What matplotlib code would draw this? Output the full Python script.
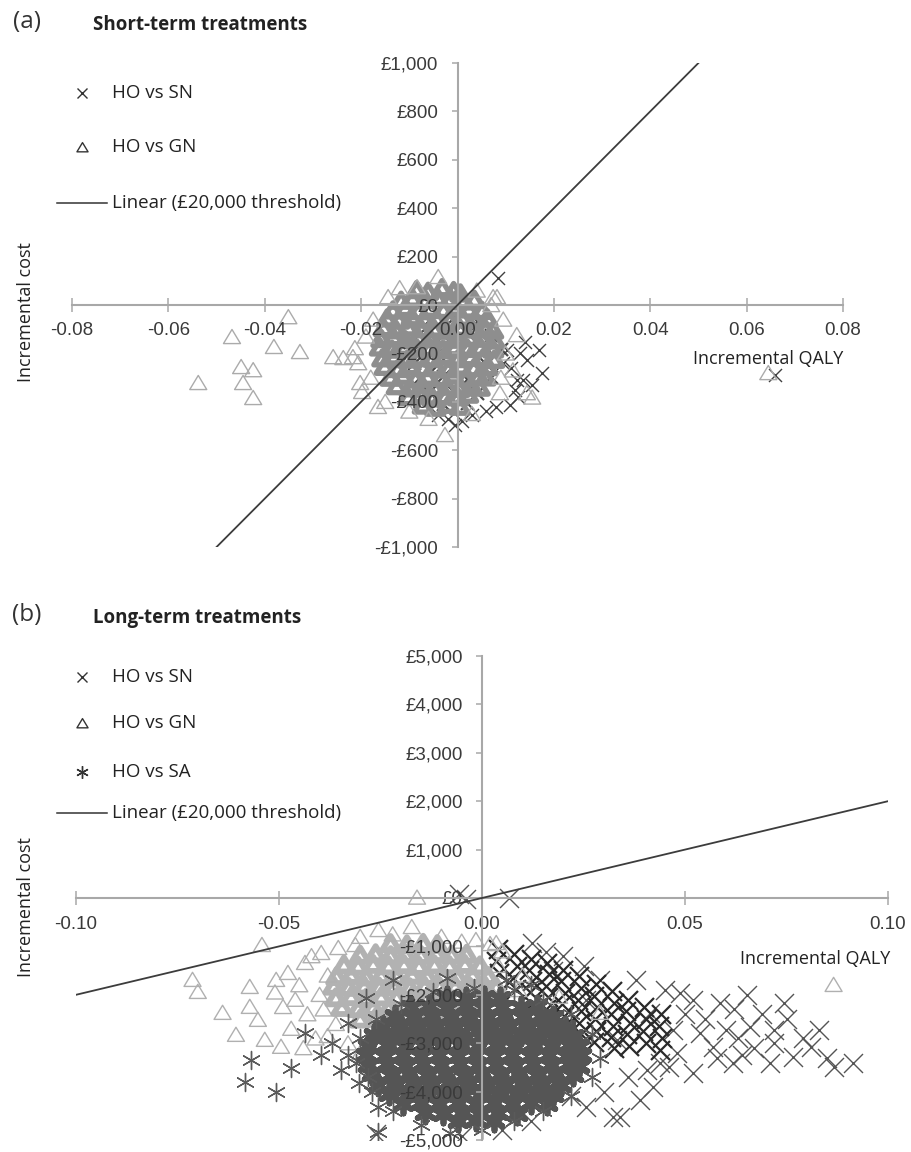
import numpy as np
import matplotlib
matplotlib.use('Agg')
import matplotlib.pyplot as plt
from matplotlib.lines import Line2D
from matplotlib.path import Path

# ======================= DATA =======================
# ---- panel (a): short-term treatments ----
a_xticks = [-0.08, -0.06, -0.04, -0.02, 0.0, 0.02, 0.04, 0.06, 0.08]
a_xticklabels = ['-0.08', '-0.06', '-0.04', '-0.02', '0.00', '0.02', '0.04', '0.06', '0.08']
a_yticks = [-1000, -800, -600, -400, -200, 0, 200, 400, 600, 800, 1000]
a_yticklabels = ['-£1,000', '-£800', '-£600', '-£400', '-£200', '£0', '£200', '£400', '£600', '£800', '£1,000']
a_threshold_x = [-0.05, 0.05]
a_threshold_y = [-1000, 1000]

# HO vs SN (x markers) - dense part and scattered part
a_sn_dense = [
    (-0.006, -60), (-0.001, -55), (0.004, -65),
    (-0.008, -120), (-0.003, -125), (0.002, -115), (0.007, -122),
    (-0.009, -180), (-0.004, -175), (0.001, -185), (0.006, -178), (0.009, -182),
    (-0.009, -240), (-0.004, -245), (0.001, -235), (0.006, -242),
    (-0.008, -300), (-0.003, -295), (0.002, -305), (0.007, -298),
    (-0.006, -360), (-0.001, -355), (0.004, -365),
    (-0.003, -410), (0.002, -405),
]
a_sn_sparse = [
    (0.0085, 112), (0.0659, -289), (0.0140, -153), (0.0169, -186), (0.0144, -227),
    (0.0175, -281), (0.0136, -310), (0.0123, -310), (0.0109, -413), (0.0095, -240),
    (0.0103, -186), (-0.0005, -496), (0.0010, -480), (-0.0020, -470), (0.0030, -455),
    (0.0060, -440), (0.0080, -420), (-0.0040, -455), (0.0120, -350), (0.0110, -260),
    (0.0130, -200), (0.0155, -330), (0.0125, -380),
]
# HO vs GN (triangles)
a_gn_dense = [
    (-0.0085, 62), (-0.0061, 55), (-0.0032, 70), (-0.0008, 58), (0.0006, 48),
    (-0.0117, 18), (-0.0093, 27), (-0.0066, 20), (-0.0041, 30), (-0.0014, 24), (0.0012, 15), (0.0035, 22),
    (-0.0134, -22), (-0.0108, -12), (-0.0081, -25), (-0.0057, -15), (-0.0029, -20), (-0.0003, -10),
    (0.0024, -18), (0.0051, -24),
    (-0.0146, -55), (-0.0121, -64), (-0.0095, -50), (-0.0068, -60), (-0.0043, -57), (-0.0016, -66),
    (0.0009, -52), (0.0036, -61), (0.0062, -55),
    (-0.0153, -95), (-0.0127, -104), (-0.0102, -92), (-0.0075, -100), (-0.0049, -97), (-0.0022, -106),
    (0.0004, -94), (0.0031, -101), (0.0057, -96), (0.0074, -105),
    (-0.0158, -140), (-0.0133, -132), (-0.0108, -145), (-0.0081, -136), (-0.0056, -141), (-0.0029, -130),
    (-0.0002, -143), (0.0025, -135), (0.0051, -139), (0.0077, -146),
    (-0.0161, -175), (-0.0136, -184), (-0.0109, -172), (-0.0084, -180), (-0.0057, -177), (-0.0031, -186),
    (-0.0005, -174), (0.0021, -181), (0.0048, -176), (0.0074, -183),
    (-0.0156, -220), (-0.0131, -212), (-0.0104, -225), (-0.0079, -216), (-0.0052, -221), (-0.0026, -210),
    (0.0001, -223), (0.0027, -215), (0.0053, -219), (0.0076, -226),
    (-0.0151, -255), (-0.0124, -264), (-0.0098, -252), (-0.0071, -260), (-0.0046, -257), (-0.0019, -266),
    (0.0007, -254), (0.0034, -261), (0.0062, -256),
    (-0.0139, -300), (-0.0113, -292), (-0.0087, -305), (-0.0062, -296), (-0.0035, -301), (-0.0009, -290),
    (0.0017, -303), (0.0044, -295), (0.0058, -299),
    (-0.0126, -335), (-0.0099, -344), (-0.0073, -332), (-0.0048, -340), (-0.0021, -337), (0.0004, -346),
    (0.0029, -334), (0.0046, -341),
    (-0.0102, -380), (-0.0076, -372), (-0.0051, -385), (-0.0025, -376), (0.0001, -381), (0.0022, -370),
    (-0.0072, -415), (-0.0046, -424), (-0.0019, -412), (0.0005, -420),
]
a_gn_sparse = [
    (-0.0351, -50), (-0.0468, -132), (-0.0381, -173), (-0.0327, -194), (-0.0449, -256),
    (-0.0424, -269), (-0.0538, -322), (-0.0445, -322), (-0.0424, -384), (-0.0258, -215),
    (-0.0237, -219), (-0.0213, -178), (-0.0206, -240), (-0.0198, -359), (-0.0165, -421),
    (-0.0144, 33), (-0.0084, 74), (-0.0040, 116), (0.0144, -364), (0.0155, -382),
    (0.0123, -124), (0.0082, 33), (0.0088, -364), (-0.0026, -537), (0.0645, -281),
    (-0.0180, -300), (-0.0190, -130), (-0.0175, -60), (-0.0120, 70), (0.0040, 60),
    (0.0070, 0), (0.0095, -60), (0.0100, -200), (0.0090, -300), (-0.0100, -440),
    (-0.0060, -470), (0.0030, -450), (-0.0150, -400), (-0.0217, -215), (-0.0202, -322),
    (0.0074, 33), (0.0115, -270),
]

# ---- panel (b): long-term treatments ----
b_xticks = [-0.10, -0.05, 0.0, 0.05, 0.10]
b_xticklabels = ['-0.10', '-0.05', '0.00', '0.05', '0.10']
b_yticks = [-5000, -4000, -3000, -2000, -1000, 0, 1000, 2000, 3000, 4000, 5000]
b_yticklabels = ['-£5,000', '-£4,000', '-£3,000', '-£2,000', '-£1,000', '£0',
                 '£1,000', '£2,000', '£3,000', '£4,000', '£5,000']
b_threshold_x = [-0.10, 0.10]
b_threshold_y = [-2000, 2000]

b_sn_dense = [
    (0.0040, -1050), (0.0035, -1300), (0.0043, -1550),
    (0.0080, -1150), (0.0085, -1400), (0.0077, -1650), (0.0083, -1880),
    (0.0120, -1250), (0.0115, -1480), (0.0124, -1720), (0.0118, -1950), (0.0122, -2180),
    (0.0160, -1350), (0.0165, -1580), (0.0157, -1820), (0.0163, -2050), (0.0158, -2290), (0.0164, -2500),
    (0.0200, -1480), (0.0195, -1720), (0.0204, -1960), (0.0198, -2200), (0.0202, -2440), (0.0196, -2680),
    (0.0240, -1620), (0.0245, -1860), (0.0237, -2100), (0.0243, -2340), (0.0238, -2580), (0.0244, -2820),
    (0.0280, -1780), (0.0275, -2020), (0.0284, -2260), (0.0278, -2500), (0.0282, -2740), (0.0276, -2980),
    (0.0320, -1920), (0.0325, -2160), (0.0317, -2400), (0.0323, -2640), (0.0318, -2880), (0.0324, -3100),
    (0.0360, -2100), (0.0355, -2340), (0.0364, -2580), (0.0358, -2820), (0.0362, -3060),
    (0.0400, -2250), (0.0405, -2500), (0.0397, -2750), (0.0403, -3000),
    (0.0440, -2400), (0.0435, -2650), (0.0444, -2900), (0.0438, -3150),
]
b_sn_sparse = [
    (0.0067, 0), (-0.0040, -30), (-0.0057, 90), (0.0124, -928), (0.0158, -1113),
    (0.0743, -2165), (0.0653, -2000), (0.0830, -2722), (0.0866, -3485), (0.0913, -3402),
    (0.0810, -3072), (0.0710, -3402), (0.0619, -3402), (0.0765, -3278), (0.0718, -2722),
    (0.0587, -2165), (0.0488, -1959), (0.0537, -2784), (0.0520, -3608), (0.0438, -3402),
    (0.0389, -4165), (0.0322, -4515), (0.0413, -2371), (0.0290, -1690), (0.0257, -2103),
    (0.0332, -2928), (0.0660, -2660), (0.0470, -2722), (0.0569, -3072), (0.0602, -2722),
    (0.0340, -4515), (0.0257, -4309), (0.0050, -4784), (0.0173, -3897), (0.0420, -3897),
    (0.0406, -3546), (-0.0260, -4880), (-0.0050, -4920), (0.0500, -2400), (0.0550, -2500),
    (0.0630, -2900), (0.0670, -3100), (0.0750, -2500), (0.0790, -2900), (0.0580, -3300),
    (0.0480, -3200), (0.0460, -3500), (0.0520, -2100), (0.0450, -1900), (0.0380, -1700),
    (0.0200, -1200), (0.0175, -1500), (0.0250, -1400), (0.0360, -3700), (0.0300, -4000),
    (0.0220, -4100), (0.0120, -4600), (0.0620, -2300), (0.0690, -2400), (0.0850, -3300),
    (0.0720, -3000), (0.0640, -3250),
]
b_gn_dense = [
    (-0.0225, -940), (-0.0185, -965), (-0.0145, -935), (-0.0110, -960),
    (-0.0300, -1180), (-0.0262, -1150), (-0.0225, -1190), (-0.0188, -1160), (-0.0150, -1185),
    (-0.0112, -1145), (-0.0075, -1175), (-0.0038, -1160),
    (-0.0340, -1380), (-0.0305, -1405), (-0.0268, -1370), (-0.0230, -1400), (-0.0192, -1375),
    (-0.0155, -1410), (-0.0117, -1380), (-0.0080, -1395), (-0.0042, -1370), (-0.0005, -1400),
    (-0.0358, -1620), (-0.0322, -1595), (-0.0285, -1630), (-0.0248, -1600), (-0.0210, -1625),
    (-0.0172, -1590), (-0.0135, -1615), (-0.0098, -1600), (-0.0060, -1630), (-0.0023, -1595), (0.0015, -1620),
    (-0.0365, -1820), (-0.0328, -1845), (-0.0290, -1815), (-0.0253, -1840), (-0.0216, -1825),
    (-0.0178, -1850), (-0.0141, -1820), (-0.0104, -1835), (-0.0066, -1815), (-0.0029, -1845),
    (0.0008, -1825), (0.0035, -1840),
    (-0.0360, -2060), (-0.0322, -2035), (-0.0285, -2065), (-0.0248, -2040), (-0.0210, -2055),
    (-0.0172, -2030), (-0.0135, -2060), (-0.0098, -2045), (-0.0060, -2065), (-0.0023, -2035), (0.0015, -2055),
    (-0.0345, -2260), (-0.0305, -2285), (-0.0268, -2255), (-0.0230, -2280), (-0.0192, -2265),
    (-0.0155, -2290), (-0.0117, -2260), (-0.0080, -2275), (-0.0042, -2255), (-0.0005, -2280),
    (-0.0300, -2500), (-0.0262, -2475), (-0.0225, -2505), (-0.0188, -2480), (-0.0150, -2495),
    (-0.0112, -2470), (-0.0075, -2500),
    (-0.0230, -2700), (-0.0190, -2725), (-0.0150, -2705),
]
b_gn_sparse = [
    (-0.0542, -969), (-0.0713, -1690), (-0.0700, -1938), (-0.0572, -1835), (-0.0639, -2371),
    (-0.0606, -2825), (-0.0255, -660), (-0.0173, -598), (-0.0354, -1031), (-0.0312, -969),
    (-0.0478, -1546), (-0.0507, -1690), (-0.0436, -1340), (-0.0572, -2247), (-0.0552, -2515),
    (-0.0535, -2928), (-0.0495, -3072), (-0.0396, -1134), (-0.0160, 10), (0.0866, -1794),
    (-0.0450, -1800), (-0.0460, -2100), (-0.0430, -2400), (-0.0470, -2700), (-0.0410, -2900),
    (-0.0440, -3100), (-0.0380, -1600), (-0.0400, -2000), (-0.0390, -2300), (-0.0360, -2600),
    (-0.0380, -2850), (-0.0330, -3000), (-0.0490, -2250), (-0.0510, -1950), (-0.0420, -1200),
    (-0.0300, -800), (-0.0220, -750), (-0.0100, -800), (-0.0050, -900), (0.0020, -950),
    (0.0050, -1100), (0.0090, -1900), (0.0190, -2040), (0.0290, -2370), (0.0100, -1600),
    (-0.0015, -866), (0.0035, -928), (-0.0040, -3000), (-0.0300, -3200), (0.0040, -1400),
]
b_sa_dense = [
    (-0.0085, -2040), (-0.0040, -2070), (0.0005, -2045), (0.0045, -2065),
    (-0.0175, -2260), (-0.0130, -2235), (-0.0085, -2265), (-0.0040, -2240), (0.0005, -2270),
    (0.0050, -2245), (0.0095, -2255), (0.0135, -2235),
    (-0.0215, -2440), (-0.0170, -2465), (-0.0125, -2435), (-0.0080, -2460), (-0.0035, -2445),
    (0.0010, -2470), (0.0055, -2440), (0.0100, -2455), (0.0145, -2435), (0.0175, -2465),
    (-0.0245, -2660), (-0.0200, -2635), (-0.0155, -2665), (-0.0110, -2640), (-0.0065, -2655),
    (-0.0020, -2630), (0.0025, -2660), (0.0070, -2645), (0.0115, -2665), (0.0160, -2635), (0.0205, -2655),
    (-0.0265, -2840), (-0.0220, -2865), (-0.0175, -2835), (-0.0130, -2860), (-0.0085, -2845),
    (-0.0040, -2870), (0.0005, -2840), (0.0050, -2855), (0.0095, -2835), (0.0140, -2865),
    (0.0185, -2845), (0.0225, -2860),
    (-0.0280, -3060), (-0.0235, -3035), (-0.0190, -3065), (-0.0145, -3040), (-0.0100, -3055),
    (-0.0055, -3030), (-0.0010, -3060), (0.0035, -3045), (0.0080, -3065), (0.0125, -3035),
    (0.0170, -3055), (0.0215, -3040), (0.0240, -3065),
    (-0.0285, -3240), (-0.0240, -3265), (-0.0195, -3235), (-0.0150, -3260), (-0.0105, -3245),
    (-0.0060, -3270), (-0.0015, -3240), (0.0030, -3255), (0.0075, -3235), (0.0120, -3265),
    (0.0165, -3245), (0.0210, -3260), (0.0245, -3240),
    (-0.0280, -3460), (-0.0235, -3435), (-0.0190, -3465), (-0.0145, -3440), (-0.0100, -3455),
    (-0.0055, -3430), (-0.0010, -3460), (0.0035, -3445), (0.0080, -3465), (0.0125, -3435),
    (0.0170, -3455), (0.0215, -3440), (0.0240, -3465),
    (-0.0270, -3640), (-0.0225, -3665), (-0.0180, -3635), (-0.0135, -3660), (-0.0090, -3645),
    (-0.0045, -3670), (0.0000, -3640), (0.0045, -3655), (0.0090, -3635), (0.0135, -3665),
    (0.0180, -3645), (0.0225, -3660),
    (-0.0255, -3860), (-0.0210, -3835), (-0.0165, -3865), (-0.0120, -3840), (-0.0075, -3855),
    (-0.0030, -3830), (0.0015, -3860), (0.0060, -3845), (0.0105, -3865), (0.0150, -3835), (0.0195, -3855),
    (-0.0230, -4040), (-0.0185, -4065), (-0.0140, -4035), (-0.0095, -4060), (-0.0050, -4045),
    (-0.0005, -4070), (0.0040, -4040), (0.0085, -4055), (0.0130, -4035), (0.0175, -4065),
    (-0.0195, -4260), (-0.0150, -4235), (-0.0105, -4265), (-0.0060, -4240), (-0.0015, -4255),
    (0.0030, -4230), (0.0075, -4260), (0.0120, -4245), (0.0160, -4265),
    (-0.0140, -4440), (-0.0095, -4465), (-0.0050, -4435), (-0.0005, -4460), (0.0040, -4445), (0.0085, -4470),
    (-0.0060, -4610), (-0.0015, -4585), (0.0030, -4605),
]
b_sa_sparse = [
    (-0.0584, -3794), (-0.0507, -4000), (-0.0569, -3340), (-0.0470, -3505), (-0.0436, -2783),
    (-0.0329, -2577), (-0.0285, -2062), (-0.0218, -1690), (-0.0087, -1650), (-0.0396, -3237),
    (-0.0347, -3546), (-0.0304, -3814), (-0.0255, -4309), (-0.0255, -4845), (-0.0370, -3000),
    (-0.0330, -3250), (-0.0300, -2900), (-0.0310, -3400), (-0.0280, -3700), (-0.0270, -4000),
    (-0.0220, -4400), (-0.0150, -4700), (-0.0080, -4850), (0.0000, -4800), (0.0080, -4600),
    (0.0150, -4400), (0.0220, -4100), (0.0270, -3700), (0.0290, -3300), (0.0270, -2800),
    (0.0220, -2400), (0.0150, -2100), (0.0080, -1900), (-0.0020, -1850), (-0.0120, -1950),
    (-0.0200, -2200), (-0.0260, -2500), (0.0060, -1700), (0.0120, -1800),
]

# ======================= STYLE / LAYOUT =======================
W, H = 911, 1152
LABEL_FONT = 'Open Sans'
TICK_FONT = 'Liberation Sans'

fig = plt.figure(figsize=(W / 100, H / 100), dpi=100)
fig.patch.set_facecolor('white')

def fxy(px, py):
    return px / W, 1 - py / H

tri_path = Path([(-1, -0.78), (1, -0.78), (0, 0.88), (-1, -0.78)],
                [Path.MOVETO, Path.LINETO, Path.LINETO, Path.CLOSEPOLY])
asterisk = (6, 2, 0)


def style_axes(ax, xlim, ylim, xt, xtl, yt, ytl, xpad):
    ax.set_xlim(*xlim)
    ax.set_ylim(*ylim)
    ax.patch.set_alpha(0)
    for s in ('top', 'right'):
        ax.spines[s].set_visible(False)
    ax.spines['left'].set_position(('data', 0))
    ax.spines['bottom'].set_position(('data', 0))
    for s in ('left', 'bottom'):
        ax.spines[s].set_color('#a8a8a8')
        ax.spines[s].set_linewidth(1.5)
    ax.set_xticks(xt)
    ax.set_xticklabels(xtl)
    ax.set_yticks(yt)
    ax.set_yticklabels(ytl)
    ax.tick_params(axis='x', direction='inout', length=9.5, width=1.1, color='#a8a8a8',
                   pad=xpad, labelsize=13.5, labelcolor='#3a3a3a')
    ax.tick_params(axis='y', direction='out', length=4.5, width=1.1, color='#a8a8a8',
                   pad=9.5, labelsize=13.5, labelcolor='#3a3a3a')
    for lab in ax.get_xticklabels() + ax.get_yticklabels():
        lab.set_fontfamily(TICK_FONT)


def pts(lst):
    arr = np.array(lst, dtype=float)
    return arr[:, 0], arr[:, 1]


def legend_entry(px, py, kind, text, color='#333333'):
    fx, fy = fxy(px, py)
    if kind == 'line':
        x0, _ = fxy(57, py)
        x1, _ = fxy(107, py)
        fig.add_artist(Line2D([x0, x1], [fy, fy], color='#333333', lw=1.1,
                              transform=fig.transFigure))
    elif kind == 'x':
        fig.add_artist(Line2D([fx], [fy], marker='x', ms=7.5, mew=1.0, color=color,
                              linestyle='none', transform=fig.transFigure))
    elif kind == 'tri':
        fig.add_artist(Line2D([fx], [fy], marker=tri_path, ms=8, mew=1.0, mec=color,
                              mfc='none', linestyle='none', transform=fig.transFigure))
    elif kind == 'ast':
        fig.add_artist(Line2D([fx], [fy], marker=asterisk, ms=9, mew=1.0, color=color,
                              linestyle='none', transform=fig.transFigure))
    tx, _ = fxy(112, py)
    fig.text(tx, fy, text, ha='left', va='center', fontsize=13.5, family=LABEL_FONT,
             color='#222222')


# ======================= PANEL (a) =======================
axa = fig.add_axes([72 / W, 1 - 547 / H, 771 / W, 484 / H])
style_axes(axa, (-0.08, 0.08), (-1000, 1000), a_xticks, a_xticklabels, a_yticks, a_yticklabels, 7.5)

x, y = pts(a_sn_dense)
axa.scatter(x, y, marker='x', s=88, c='#4a4a4a', linewidths=1.6, zorder=1)
x, y = pts(a_sn_sparse)
axa.scatter(x, y, marker='x', s=88, c='#404040', linewidths=1.0, zorder=1)
x, y = pts(a_gn_dense)
axa.scatter(x, y, marker=tri_path, s=150, facecolors='none', edgecolors='#8e8e8e',
            linewidths=3.8, zorder=1)
x, y = pts(a_gn_sparse)
axa.scatter(x, y, marker=tri_path, s=150, facecolors='none', edgecolors='#ababab',
            linewidths=1.0, zorder=1)
axa.plot(a_threshold_x, a_threshold_y, color='#3c3c3c', lw=1.3, zorder=3)

fig.text(*fxy(27, 22), '(a)', ha='center', va='center', fontsize=17.5, family=LABEL_FONT,
         color='#333333')
fig.text(*fxy(93, 25), 'Short-term treatments', ha='left', va='center', fontsize=13.5,
         family=LABEL_FONT, weight='bold', color='#222222')
legend_entry(82, 93, 'x', 'HO vs SN')
legend_entry(82, 147, 'tri', 'HO vs GN')
legend_entry(82, 203, 'line', 'Linear (£20,000 threshold)')
fig.text(*fxy(26, 382), 'Incremental cost', rotation=90, ha='center', va='bottom',
         fontsize=13, family=LABEL_FONT, color='#222222')
fig.text(*fxy(843, 359), 'Incremental QALY', ha='right', va='center', fontsize=13,
         family=LABEL_FONT, color='#222222')

# ======================= PANEL (b) =======================
axb = fig.add_axes([76 / W, 1 - 1140 / H, 812 / W, 484 / H])
style_axes(axb, (-0.10, 0.10), (-5000, 5000), b_xticks, b_xticklabels, b_yticks, b_yticklabels, 8.5)

x, y = pts(b_sn_sparse)
axb.scatter(x, y, marker='x', s=187, c='#555555', linewidths=1.0, zorder=1)
x, y = pts(b_sn_dense)
axb.scatter(x, y, marker='x', s=187, c='#2a2a2a', linewidths=1.6, zorder=1)
x, y = pts(b_gn_dense)
axb.scatter(x, y, marker=tri_path, s=150, facecolors='none', edgecolors='#b2b2b2',
            linewidths=4.2, zorder=1)
x, y = pts(b_gn_sparse)
axb.scatter(x, y, marker=tri_path, s=150, facecolors='none', edgecolors='#b0b0b0',
            linewidths=1.0, zorder=1)
x, y = pts(b_sa_dense)
axb.scatter(x, y, marker=asterisk, s=169, c='#555555', linewidths=4.2, zorder=1)
x, y = pts(b_sa_sparse)
axb.scatter(x, y, marker=asterisk, s=169, c='#5a5a5a', linewidths=1.0, zorder=1)
axb.plot(b_threshold_x, b_threshold_y, color='#3c3c3c', lw=1.3, zorder=3)

fig.text(*fxy(27, 615), '(b)', ha='center', va='center', fontsize=17.5, family=LABEL_FONT,
         color='#333333')
fig.text(*fxy(93, 618), 'Long-term treatments', ha='left', va='center', fontsize=13.5,
         family=LABEL_FONT, weight='bold', color='#222222')
legend_entry(82, 677, 'x', 'HO vs SN')
legend_entry(82, 723, 'tri', 'HO vs GN')
legend_entry(82, 772, 'ast', 'HO vs SA')
legend_entry(82, 813, 'line', 'Linear (£20,000 threshold)')
fig.text(*fxy(26, 977), 'Incremental cost', rotation=90, ha='center', va='bottom',
         fontsize=13, family=LABEL_FONT, color='#222222')
fig.text(*fxy(890, 959), 'Incremental QALY', ha='right', va='center', fontsize=13,
         family=LABEL_FONT, color='#222222')

fig.savefig('out.png', dpi=100)
